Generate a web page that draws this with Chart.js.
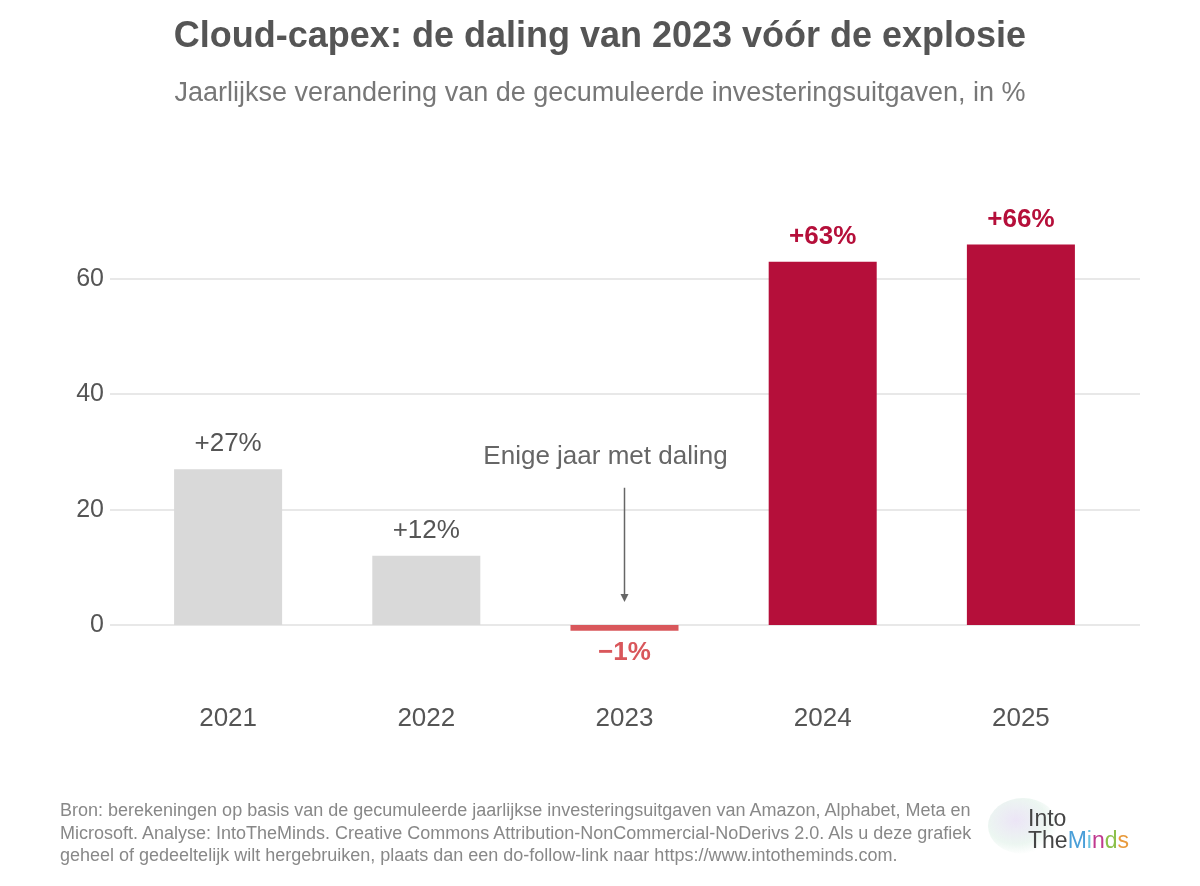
<!DOCTYPE html>
<html lang="nl">
<head>
<meta charset="utf-8">
<script src="https://cdn.jsdelivr.net/npm/chart.js@4/dist/chart.umd.min.js"></script>
<style>
  html, body { margin: 0; padding: 0; background: #fff; }
  body { width: 1200px; height: 886px; position: relative; overflow: hidden; font-family: "Liberation Sans", Arial, sans-serif; }
  #wrap { position: absolute; left: 0; top: 0; width: 1200px; height: 886px; }
  .title { position: absolute; left: 0; width: 1200px; top: 14px; text-align: center; font-size: 36px; font-weight: bold; color: #555; }
  .subtitle { position: absolute; left: 0; width: 1200px; top: 77px; text-align: center; font-size: 27px; color: #777; }
  .footer { position: absolute; left: 60px; top: 799px; font-size: 18px; line-height: 22.5px; color: #888; }
  .logo { position: absolute; left: 984px; top: 796px; width: 160px; height: 64px; }
  .brain { position: absolute; left: 4px; top: 2px; width: 70px; height: 56px; border-radius: 50%;
           background: radial-gradient(ellipse at 40% 40%, rgba(200,180,230,0.35), rgba(180,220,200,0.25) 50%, rgba(255,255,255,0) 72%); }
  .logo .t1 { position: absolute; left: 44px; top: 11px; font-size: 23px; color: #444; line-height: 23px; }
  .logo .t2 { position: absolute; left: 44px; top: 33px; font-size: 23px; color: #444; line-height: 23px; }
</style>
</head>
<body>
<div id="wrap"><canvas id="capexChart" width="1200" height="886"></canvas></div>
<div class="title">Cloud-capex: de daling van 2023 vóór de explosie</div>
<div class="subtitle">Jaarlijkse verandering van de gecumuleerde investeringsuitgaven, in %</div>
<div class="footer">Bron: berekeningen op basis van de gecumuleerde jaarlijkse investeringsuitgaven van Amazon, Alphabet, Meta en<br>Microsoft. Analyse: IntoTheMinds. Creative Commons Attribution-NonCommercial-NoDerivs 2.0. Als u deze grafiek<br>geheel of gedeeltelijk wilt hergebruiken, plaats dan een do-follow-link naar https://www.intotheminds.com.</div>
<div class="logo"><div class="brain"></div><div class="t1">Into</div><div class="t2">The<span style="color:#4a9fd8">M</span><span style="color:#6cc3e0">i</span><span style="color:#c0398f">n</span><span style="color:#8cc04a">d</span><span style="color:#e89a3c">s</span></div></div>
<script>
const years = ['2021', '2022', '2023', '2024', '2025'];
const changes = [27, 12, -1, 63, 66];
const valueLabels = ['+27%', '+12%', '\u22121%', '+63%', '+66%'];
const yTicks = [0, 20, 40, 60];

// annotation for the single year with a decline
const noteText = 'Enige jaar met daling';
const noteIndex = 2;
const noteTextValue = 29.1;
const arrowFrom = 23.8;
const arrowTo = 4.0;

const GRAY = '#d9d9d9';
const CRIMSON = '#b50f3a';
const LIGHT_RED = '#d9575b';
const TEXT = '#555';
const GRID = '#e0e0e0';

function barColor(v, i) {
    if (v < 0) return LIGHT_RED;
    return i >= 3 ? CRIMSON : GRAY;
}

// value labels above/below each bar
const valueLabelPlugin = {
    id: 'valueLabels',
    afterDatasetsDraw(chart) {
        const { ctx } = chart;
        const meta = chart.getDatasetMeta(0);
        ctx.save();
        ctx.textAlign = 'center';
        ctx.textBaseline = 'middle';
        meta.data.forEach((bar, i) => {
            const v = changes[i];
            if (v < 0) {
                ctx.fillStyle = LIGHT_RED;
                ctx.font = 'bold 26px "Liberation Sans", Arial, sans-serif';
                ctx.fillText(valueLabels[i], bar.x, bar.y + 22);
            } else if (i >= 3) {
                ctx.fillStyle = CRIMSON;
                ctx.font = 'bold 26px "Liberation Sans", Arial, sans-serif';
                ctx.fillText(valueLabels[i], bar.x, bar.y - 25);
            } else {
                ctx.fillStyle = TEXT;
                ctx.font = '26px "Liberation Sans", Arial, sans-serif';
                ctx.fillText(valueLabels[i], bar.x, bar.y - 25);
            }
        });
        ctx.restore();
    }
};

// annotation text + arrow, positioned through the scales
const notePlugin = {
    id: 'note',
    afterDatasetsDraw(chart) {
        const { ctx, scales: { x, y } } = chart;
        const cx = x.getPixelForValue(noteIndex);
        ctx.save();
        ctx.fillStyle = '#666';
        ctx.font = '26px "Liberation Sans", Arial, sans-serif';
        ctx.textAlign = 'center';
        ctx.textBaseline = 'middle';
        ctx.fillText(noteText, cx - 19, y.getPixelForValue(noteTextValue));

        const y1 = y.getPixelForValue(arrowFrom);
        const y2 = y.getPixelForValue(arrowTo);
        ctx.strokeStyle = '#666';
        ctx.lineWidth = 1.5;
        ctx.beginPath();
        ctx.moveTo(cx, y1);
        ctx.lineTo(cx, y2 - 6);
        ctx.stroke();
        ctx.beginPath();
        ctx.moveTo(cx - 4, y2 - 8);
        ctx.lineTo(cx + 4, y2 - 8);
        ctx.lineTo(cx, y2);
        ctx.closePath();
        ctx.fill();
        ctx.restore();
    }
};

// horizontal gridlines that run a little past the bars on both sides
const gridPlugin = {
    id: 'gridLines',
    beforeDatasetsDraw(chart) {
        const { ctx, chartArea, scales: { y } } = chart;
        ctx.save();
        ctx.strokeStyle = GRID;
        ctx.lineWidth = 1.5;
        yTicks.forEach(t => {
            const py = Math.round(y.getPixelForValue(t));
            ctx.beginPath();
            ctx.moveTo(chartArea.left - 19, py);
            ctx.lineTo(chartArea.right + 20, py);
            ctx.stroke();
        });
        ctx.restore();
    }
};

new Chart(document.getElementById('capexChart'), {
    type: 'bar',
    data: {
        labels: years,
        datasets: [{
            data: changes,
            backgroundColor: changes.map(barColor),
            borderWidth: 0,
            barPercentage: 0.545,
            categoryPercentage: 1
        }]
    },
    options: {
        responsive: false,
        animation: false,
        layout: { padding: { left: 60, right: 80, top: 192.5, bottom: 151.8 } },
        plugins: {
            legend: { display: false },
            tooltip: { enabled: false }
        },
        scales: {
            x: {
                grid: { display: false },
                border: { display: false },
                ticks: {
                    color: TEXT,
                    padding: 1,
                    font: { size: 26, family: '"Liberation Sans", Arial, sans-serif' }
                },
                afterFit(scale) { scale.height = 40; }
            },
            y: {
                min: -12,
                max: 75,
                border: { display: false },
                grid: { display: false, drawTicks: false },
                afterBuildTicks(scale) { scale.ticks = yTicks.map(v => ({ value: v })); },
                afterFit(scale) { scale.width = 69; },
                ticks: {
                    color: TEXT,
                    padding: 25,
                    font: { size: 25, family: '"Liberation Sans", Arial, sans-serif' }
                }
            }
        }
    },
    plugins: [valueLabelPlugin, notePlugin, gridPlugin]
});
</script>
</body>
</html>
